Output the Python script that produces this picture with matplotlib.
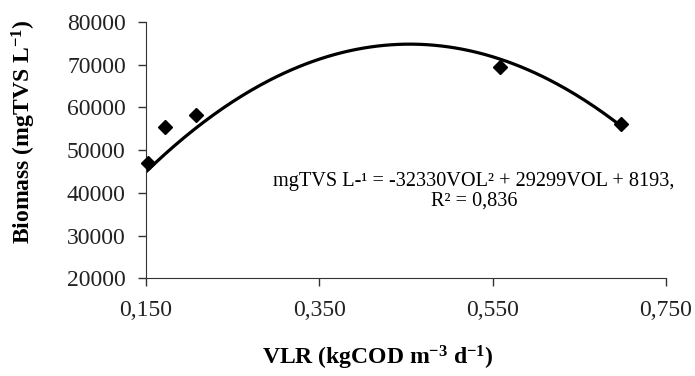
import numpy as np
import matplotlib.pyplot as plt
from matplotlib.ticker import FuncFormatter

# data
vlr = [0.152, 0.172, 0.208, 0.559, 0.698]
biomass = [46900, 55300, 58100, 69500, 56000]
# 2nd order trendline as drawn (x^2, x, 1)
trend_coef = [-322330, 292990, 8193]
yticks = [20000, 30000, 40000, 50000, 60000, 70000, 80000]
xticks = [0.150, 0.350, 0.550, 0.750]

plt.rcParams['font.family'] = ['Liberation Serif', 'DejaVu Serif']
plt.rcParams['mathtext.fontset'] = 'custom'
plt.rcParams['mathtext.rm'] = 'Liberation Serif'
plt.rcParams['mathtext.bf'] = 'Liberation Serif:bold'

fig = plt.figure(figsize=(6.95, 3.76), dpi=100)
ax = fig.add_axes([0.210, 0.260, 0.748, 0.682])

xs = np.linspace(0.150, max(vlr), 200)
ax.plot(xs, np.polyval(trend_coef, xs), color='black', lw=2.3, zorder=2)
ax.plot(vlr, biomass, 'D', color='black', markersize=7, zorder=3, clip_on=False)

ax.set_xlim(0.150, 0.750)
ax.set_ylim(20000, 80000)
ax.set_xticks(xticks)
ax.set_yticks(yticks)
ax.xaxis.set_major_formatter(FuncFormatter(lambda v, p: ('%.3f' % v).replace('.', ',')))
ax.tick_params(direction='out', length=5.5, width=1, labelsize=17,
               colors='#333333', labelcolor='#222222')
ax.tick_params(axis='y', pad=9)
ax.tick_params(axis='x', pad=10)
for s in ['top', 'right']:
    ax.spines[s].set_visible(False)
for s in ['left', 'bottom']:
    ax.spines[s].set_color('#333333')

ax.text(0.631, 0.34, 'mgTVS L-¹ = -32330VOL² + 29299VOL + 8193,\nR² = 0,836',
        transform=ax.transAxes, ha='center', va='center', fontsize=14.6,
        linespacing=1.0)

fig.text(0.543, 0.048, r'VLR (kgCOD m$\mathbf{^{-3}}$ d$\mathbf{^{-1}}$)',
         ha='center', va='center', fontsize=17, fontweight='bold')
fig.text(0.035, 0.65, r'Biomass (mgTVS L$\mathbf{^{-1}}$)', rotation=90,
         ha='center', va='center', fontsize=17, fontweight='bold')

fig.savefig('out.png', dpi=100)
